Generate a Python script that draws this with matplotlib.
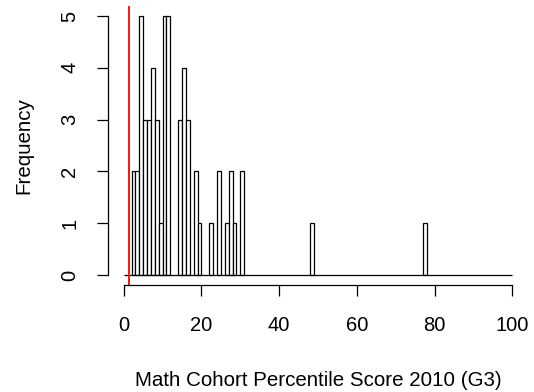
import matplotlib
matplotlib.use("Agg")
import matplotlib.pyplot as plt

# histogram: unit-width bins from 0 to 100, only non-empty bins listed
bin_left = [2, 3, 4, 5, 6, 7, 8, 9, 10, 11, 14, 15, 16, 18, 19,
            22, 24, 26, 27, 28, 30, 48, 77]
bin_count = [2, 2, 5, 3, 3, 4, 3, 1, 5, 5, 3, 4, 3, 2, 1,
             1, 2, 1, 2, 1, 2, 1, 1]
bin_range = (0, 100)
cutoff = 1.45
x_ticks = [0, 20, 40, 60, 80, 100]
y_ticks = [0, 1, 2, 3, 4, 5]

plt.rcParams['font.family'] = ['Liberation Sans', 'DejaVu Sans']

fig = plt.figure(figsize=(5.34, 3.92), dpi=100)
ax = fig.add_axes([0.2026, 0.2719, 0.7858, 0.7138])

# empty bins show up as a flat line along the base, like R's hist()
ax.hlines(0, bin_range[0], bin_range[1], color='black', linewidth=0.9)
ax.bar(bin_left, bin_count, width=1, align='edge', facecolor='white',
       edgecolor='black', linewidth=0.9)
ax.axvline(cutoff, color='red', linewidth=1.3)

ax.set_xlim(-4, 104)
ax.set_ylim(-0.2, 5.2)

# R-style axes
for side in ['top', 'right']:
    ax.spines[side].set_visible(False)
ax.spines['bottom'].set_bounds(0, 100)
ax.spines['left'].set_bounds(0, 5)
ax.spines['bottom'].set_linewidth(0.9)
ax.spines['left'].set_linewidth(0.9)

ax.set_xticks(x_ticks)
ax.set_yticks(y_ticks)
ax.tick_params(axis='both', length=8, width=0.9, labelsize=14.5)
ax.tick_params(axis='x', pad=14)
ax.tick_params(axis='y', pad=13)
plt.setp(ax.get_yticklabels(), rotation=90, va='center')

fig.text(0.5955, 0.03, "Math Cohort Percentile Score 2010 (G3)",
         ha='center', va='center', fontsize=14.8)
fig.text(0.044, 0.629, "Frequency", ha='center', va='center',
         rotation=90, fontsize=14.8)

fig.savefig("out.png", dpi=100)
